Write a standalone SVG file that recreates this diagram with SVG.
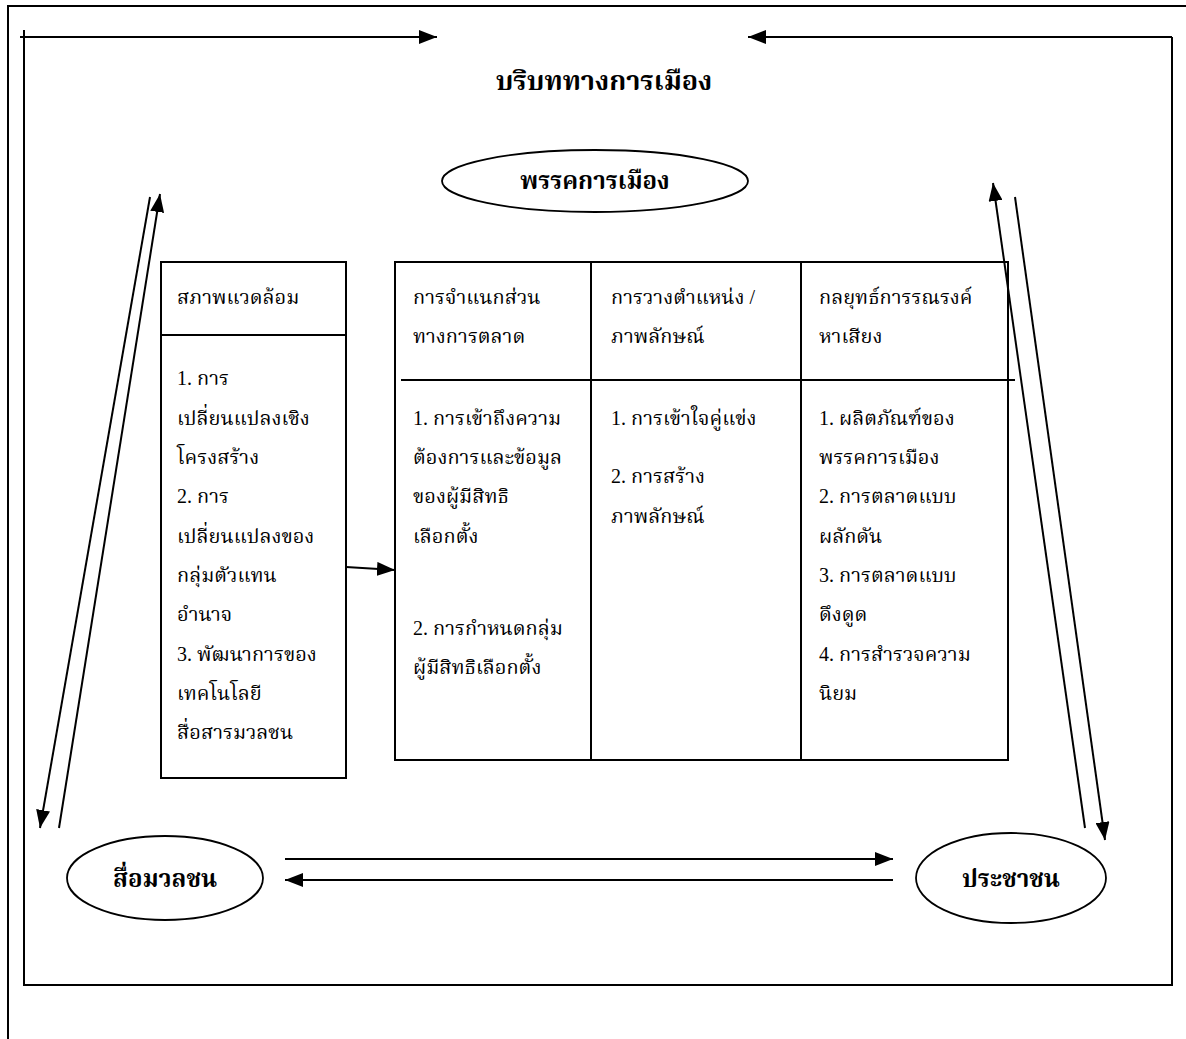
<svg xmlns="http://www.w3.org/2000/svg" width="1186" height="1039" viewBox="0 0 1186 1039">
<defs>
<style>
.ln{stroke:#000;stroke-width:2;fill:none}
.bx{stroke:#000;stroke-width:2;fill:#fff}
.el{stroke:#000;stroke-width:1.8;fill:#fff}
.t{font-family:"Liberation Serif","Noto Serif Thai","Noto Sans Thai",serif;font-size:20px;fill:#000}
.b{font-family:"Liberation Serif","Noto Serif Thai","Noto Sans Thai",serif;font-size:24px;font-weight:bold;fill:#000}
.bt{font-size:27px}
</style>
<marker id="ah" viewBox="0 0 18 14" refX="18" refY="7" markerWidth="18" markerHeight="14" markerUnits="userSpaceOnUse" orient="auto">
<path d="M0,0 L18,7 L0,14 Z" fill="#000"/>
</marker>
</defs>
<rect width="1186" height="1039" fill="#fff"/>
<g id="frame">
<path class="ln" d="M8,1039 V6 H1186"/>
<path class="ln" d="M24,30 V985 H1172 V37"/>
</g>
<g id="title"><text class="b bt" x="604" y="90" text-anchor="middle">บริบททางการเมือง</text></g>
<g id="party">
<ellipse class="el" cx="595" cy="181" rx="153" ry="31"/>
<text class="b" x="595" y="189" text-anchor="middle">พรรคการเมือง</text>
</g>
<g id="media">
<ellipse class="el" cx="165" cy="878" rx="98" ry="42"/>
<text class="b" x="165" y="887" text-anchor="middle">สื่อมวลชน</text>
</g>
<g id="people">
<ellipse class="el" cx="1011" cy="878" rx="95" ry="45"/>
<text class="b" x="1011" y="887" text-anchor="middle">ประชาชน</text>
</g>
<g id="environment">
<rect class="bx" x="161" y="262" width="185" height="516"/>
<line class="ln" x1="161" y1="335" x2="346" y2="335"/>
<text class="t">
<tspan x="177" y="304">สภาพแวดล้อม</tspan>
<tspan x="177" y="385">1. การ</tspan>
<tspan x="177" y="425">เปลี่ยนแปลงเชิง</tspan>
<tspan x="177" y="464">โครงสร้าง</tspan>
<tspan x="177" y="503">2. การ</tspan>
<tspan x="177" y="543">เปลี่ยนแปลงของ</tspan>
<tspan x="177" y="582">กลุ่มตัวแทน</tspan>
<tspan x="177" y="621">อำนาจ</tspan>
<tspan x="177" y="661">3. พัฒนาการของ</tspan>
<tspan x="177" y="700">เทคโนโลยี</tspan>
<tspan x="177" y="739">สื่อสารมวลชน</tspan>
</text>
</g>
<g id="marketing-table">
<rect class="bx" x="395" y="262" width="613" height="498"/>
<line class="ln" x1="591" y1="262" x2="591" y2="760"/>
<line class="ln" x1="801" y1="262" x2="801" y2="760"/>
<line class="ln" x1="401" y1="380" x2="1015" y2="380"/>
</g>
<g id="segmentation">
<text class="t">
<tspan x="413" y="304">การจำแนกส่วน</tspan>
<tspan x="413" y="343">ทางการตลาด</tspan>
<tspan x="413" y="425">1. การเข้าถึงความ</tspan>
<tspan x="413" y="464">ต้องการและข้อมูล</tspan>
<tspan x="413" y="503">ของผู้มีสิทธิ</tspan>
<tspan x="413" y="543">เลือกตั้ง</tspan>
<tspan x="413" y="635">2. การกำหนดกลุ่ม</tspan>
<tspan x="413" y="674">ผู้มีสิทธิเลือกตั้ง</tspan>
</text>
</g>
<g id="positioning">
<text class="t">
<tspan x="611" y="304">การวางตำแหน่ง /</tspan>
<tspan x="611" y="343">ภาพลักษณ์</tspan>
<tspan x="611" y="425">1. การเข้าใจคู่แข่ง</tspan>
<tspan x="611" y="483">2. การสร้าง</tspan>
<tspan x="611" y="523">ภาพลักษณ์</tspan>
</text>
</g>
<g id="campaign">
<text class="t">
<tspan x="819" y="304">กลยุทธ์การรณรงค์</tspan>
<tspan x="819" y="343">หาเสียง</tspan>
<tspan x="819" y="425">1. ผลิตภัณฑ์ของ</tspan>
<tspan x="819" y="464">พรรคการเมือง</tspan>
<tspan x="819" y="503">2. การตลาดแบบ</tspan>
<tspan x="819" y="543">ผลักดัน</tspan>
<tspan x="819" y="582">3. การตลาดแบบ</tspan>
<tspan x="819" y="621">ดึงดูด</tspan>
<tspan x="819" y="661">4. การสำรวจความ</tspan>
<tspan x="819" y="700">นิยม</tspan>
</text>
</g>
<g id="connectors">
<line class="ln" x1="20" y1="37" x2="437" y2="37" marker-end="url(#ah)"/>
<line class="ln" x1="1172" y1="37" x2="748" y2="37" marker-end="url(#ah)"/>
<line class="ln" x1="150" y1="197" x2="40" y2="828" marker-end="url(#ah)"/>
<line class="ln" x1="59" y1="828" x2="160" y2="194" marker-end="url(#ah)"/>
<line class="ln" x1="1085" y1="828" x2="993" y2="183" marker-end="url(#ah)"/>
<line class="ln" x1="1015" y1="197" x2="1105" y2="840" marker-end="url(#ah)"/>
<line class="ln" x1="346" y1="567" x2="395" y2="570" marker-end="url(#ah)"/>
<line class="ln" x1="285" y1="859" x2="893" y2="859" marker-end="url(#ah)"/>
<line class="ln" x1="893" y1="880" x2="285" y2="880" marker-end="url(#ah)"/>
</g>
</svg>
